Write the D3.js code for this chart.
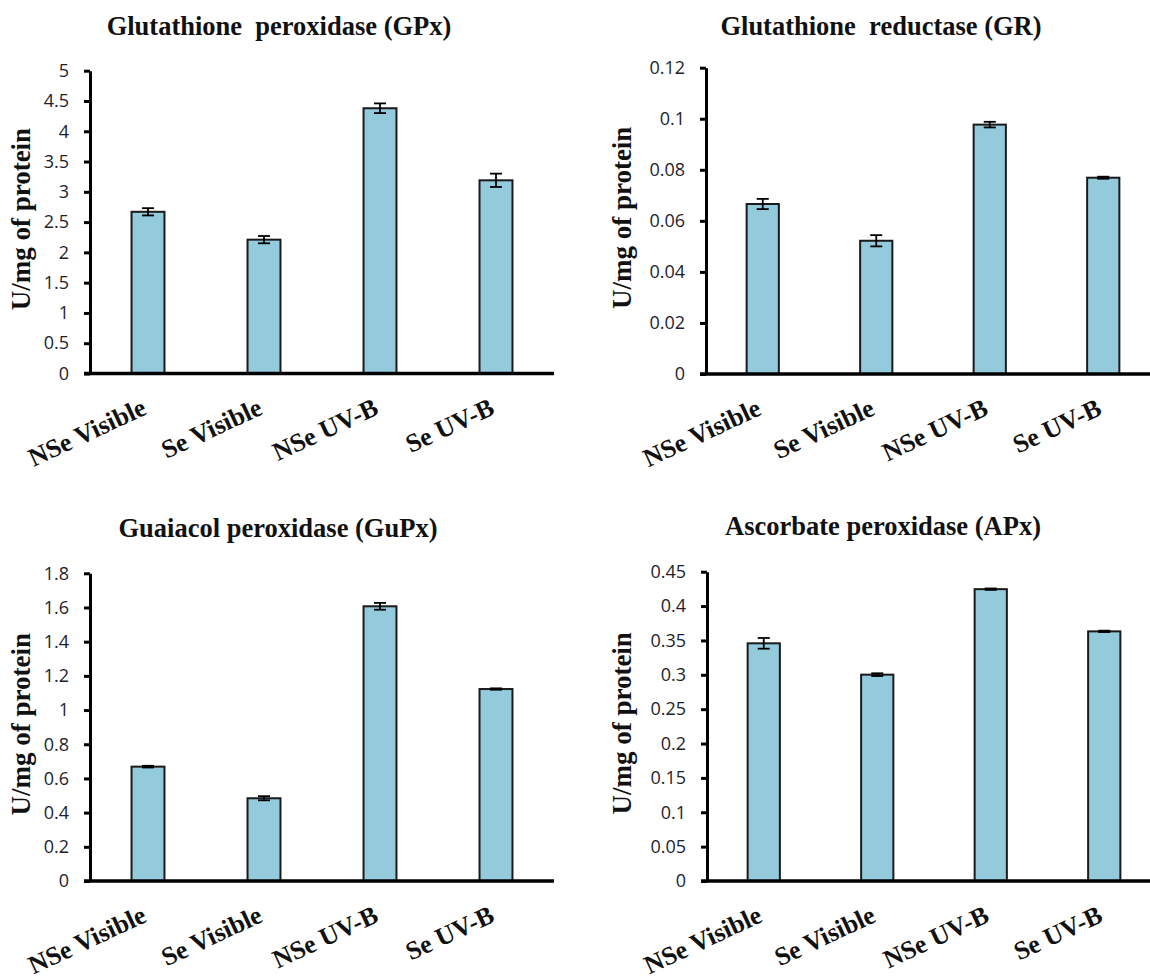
<!DOCTYPE html>
<html>
<head>
<meta charset="utf-8">
<script src="https://cdn.jsdelivr.net/npm/d3@7"></script>
<style>
  body { margin: 0; background: #fff; }
  svg { display: block; }
</style>
</head>
<body>
<svg id="chart" width="1150" height="980"></svg>
<script>
// categories shared by the four panels
const categories = ["NSe Visible", "Se Visible", "NSe UV-B", "Se UV-B"];

// Glutathione peroxidase
const gpxValues = [2.67, 2.21, 4.38, 3.19];
const gpxErrors = [0.06, 0.06, 0.08, 0.11];
const gpxTicks = [0, 0.5, 1, 1.5, 2, 2.5, 3, 3.5, 4, 4.5, 5];

// Glutathione reductase
const grValues = [0.0666, 0.0522, 0.0977, 0.0769];
const grErrors = [0.002, 0.0022, 0.0011, 0.0004];
const grTicks = [0, 0.02, 0.04, 0.06, 0.08, 0.1, 0.12];

// Guaiacol peroxidase
const gupxValues = [0.669, 0.484, 1.607, 1.123];
const gupxErrors = [0.005, 0.012, 0.02, 0.004];
const gupxTicks = [0, 0.2, 0.4, 0.6, 0.8, 1, 1.2, 1.4, 1.6, 1.8];

// Ascorbate peroxidase
const apxValues = [0.3458, 0.3002, 0.4246, 0.3632];
const apxErrors = [0.0078, 0.002, 0.001, 0.001];
const apxTicks = [0, 0.05, 0.1, 0.15, 0.2, 0.25, 0.3, 0.35, 0.4, 0.45];

const titles = ["Glutathione  peroxidase (GPx)", "Glutathione  reductase (GR)",
                "Guaiacol peroxidase (GuPx)", "Ascorbate peroxidase (APx)"];
const yLabel = "U/mg of protein";

// layout of each panel (plot frame in page pixels)
const panels = [
  {values: gpxValues, errors: gpxErrors, ticks: gpxTicks, title: titles[0],
   left: 90, right: 554, top: 70.7, bottom: 373.5, titleX: 279, titleY: 35, labelX: 30},
  {values: grValues, errors: grErrors, ticks: grTicks, title: titles[1],
   left: 706, right: 1160, top: 67.7, bottom: 374, titleX: 881, titleY: 35, labelX: 631},
  {values: gupxValues, errors: gupxErrors, ticks: gupxTicks, title: titles[2],
   left: 90, right: 554, top: 573.3, bottom: 881, titleX: 278, titleY: 537, labelX: 30},
  {values: apxValues, errors: apxErrors, ticks: apxTicks, title: titles[3],
   left: 707, right: 1161, top: 571.7, bottom: 881, titleX: 883, titleY: 535, labelX: 631}
];

const svg = d3.select("#chart");
svg.append("rect").attr("width", 1150).attr("height", 980).attr("fill", "#fff");

const serif = "'Liberation Serif', 'Times New Roman', serif";

panels.forEach(function(p) {
  const g = svg.append("g");

  const x = d3.scaleBand()
      .domain(categories)
      .range([p.left, p.right])
      .paddingInner(0.716)
      .paddingOuter(0.358);

  const y = d3.scaleLinear()
      .domain([0, d3.max(p.ticks)])
      .range([p.bottom, p.top]);

  // title
  g.append("text")
      .attr("x", p.titleX)
      .attr("y", p.titleY)
      .attr("text-anchor", "middle")
      .style("white-space", "pre")
      .attr("font-family", serif)
      .attr("font-weight", "bold")
      .attr("font-size", 26.5)
      .attr("fill", "#111")
      .text(p.title);

  // y axis label
  g.append("text")
      .attr("transform", "translate(" + p.labelX + "," + ((p.top + p.bottom) / 2 - 3) + ") rotate(-90)")
      .attr("text-anchor", "middle")
      .attr("font-family", serif)
      .attr("font-weight", "bold")
      .attr("font-size", 27)
      .attr("fill", "#111")
      .text(yLabel);

  // bars
  g.selectAll(".bar")
      .data(p.values)
      .enter().append("rect")
      .attr("class", "bar")
      .attr("x", (d, i) => x(categories[i]))
      .attr("y", d => y(d))
      .attr("width", x.bandwidth())
      .attr("height", d => y(0) - y(d))
      .attr("fill", "#93cbdc")
      .attr("stroke", "#1a1a1a")
      .attr("stroke-width", 2);

  // error bars
  const eb = g.selectAll(".err")
      .data(p.values)
      .enter().append("g")
      .attr("class", "err")
      .attr("stroke", "#000")
      .attr("stroke-width", 1.8);
  const cx = (d, i) => x(categories[i]) + x.bandwidth() / 2;
  eb.append("line")
      .attr("x1", cx).attr("x2", cx)
      .attr("y1", (d, i) => y(d - p.errors[i]))
      .attr("y2", (d, i) => y(d + p.errors[i]));
  eb.append("line")
      .attr("x1", (d, i) => cx(d, i) - 6).attr("x2", (d, i) => cx(d, i) + 6)
      .attr("y1", (d, i) => y(d + p.errors[i]))
      .attr("y2", (d, i) => y(d + p.errors[i]));
  eb.append("line")
      .attr("x1", (d, i) => cx(d, i) - 6).attr("x2", (d, i) => cx(d, i) + 6)
      .attr("y1", (d, i) => y(d - p.errors[i]))
      .attr("y2", (d, i) => y(d - p.errors[i]));

  // y axis
  const yAxis = g.append("g")
      .attr("transform", "translate(" + p.left + ",0)")
      .call(d3.axisLeft(y)
          .tickValues(p.ticks)
          .tickFormat(d => String(d))
          .tickSize(6)
          .tickSizeOuter(0)
          .tickPadding(15));
  yAxis.select(".domain").attr("stroke", "#000").attr("stroke-width", 3);
  yAxis.selectAll(".tick line").attr("stroke", "#000").attr("stroke-width", 3);
  yAxis.selectAll(".tick text")
      .attr("font-family", "'Open Sans', sans-serif")
      .attr("font-size", 18)
      .attr("fill", "#1e1e2c");

  // x axis line (no ticks)
  g.append("line")
      .attr("x1", p.left - 6).attr("x2", p.right)
      .attr("y1", y(0)).attr("y2", y(0))
      .attr("stroke", "#000")
      .attr("stroke-width", 3.5);

  // category labels, slanted
  g.selectAll(".cat")
      .data(categories)
      .enter().append("text")
      .attr("class", "cat")
      .attr("transform", d => "translate(" + (x(d) + x.bandwidth() / 2) + "," + (p.bottom + 40) + ") rotate(-25)")
      .attr("text-anchor", "end")
      .attr("font-family", serif)
      .attr("font-weight", "bold")
      .attr("font-size", 26)
      .attr("fill", "#111")
      .text(d => d);
});
</script>
</body>
</html>
